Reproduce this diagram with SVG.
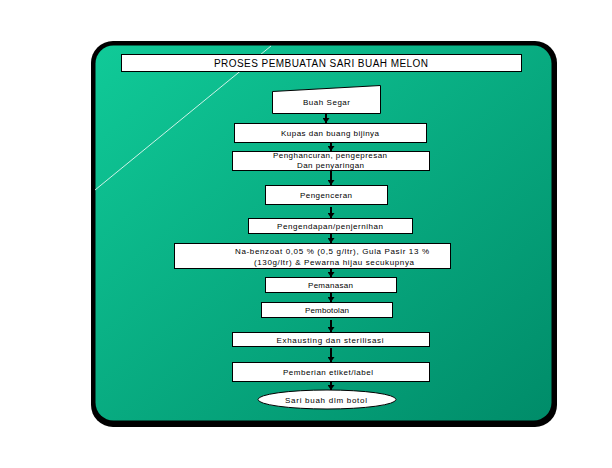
<svg xmlns="http://www.w3.org/2000/svg" width="612" height="468" viewBox="0 0 612 468">
<defs>
<linearGradient id="bg" x1="0" y1="0" x2="1" y2="1">
<stop offset="0" stop-color="#10ca98"/>
<stop offset="1" stop-color="#008c69"/>
</linearGradient>
<marker id="ah" viewBox="0 0 5 7" refX="5" refY="3.5" markerWidth="5" markerHeight="7" orient="auto" markerUnits="userSpaceOnUse">
<path d="M0,0 L5,3.5 L0,7 Z" fill="#000"/>
</marker>
<style>
.box{fill:#fff;stroke:#000;stroke-width:1}
.t{font-family:"Liberation Sans",Arial,sans-serif;font-size:8px;fill:#000;text-anchor:middle}
.title{font-family:"Liberation Sans",Arial,sans-serif;font-size:10px;fill:#000;text-anchor:middle}
.c{stroke:#000;stroke-width:2;fill:none;marker-end:url(#ah)}
</style>
</defs>
<rect width="612" height="468" fill="#fff"/>
<g id="frame">
<rect x="91" y="41" width="466" height="386" rx="22" fill="#000"/>
<rect x="95.5" y="45.5" width="456" height="375" rx="18" fill="url(#bg)"/>
<line x1="271" y1="46" x2="95" y2="190" stroke="#fff" stroke-width="0.8"/>
</g>
<g id="title">
<rect class="box" x="121.5" y="54.5" width="400" height="17"/>
<text class="title" x="321" y="67" textLength="214" lengthAdjust="spacing">PROSES PEMBUATAN SARI BUAH MELON</text>
</g>
<g id="connectors">
<line class="c" x1="326" y1="113" x2="326" y2="123"/>
<line class="c" x1="331" y1="142" x2="331" y2="151"/>
<line class="c" x1="331" y1="170" x2="331" y2="185"/>
<line class="c" x1="331" y1="207" x2="331" y2="218"/>
<line class="c" x1="331" y1="233" x2="331" y2="243"/>
<line class="c" x1="331" y1="268" x2="331" y2="277"/>
<line class="c" x1="331" y1="292" x2="331" y2="302"/>
<line class="c" x1="331" y1="320" x2="331" y2="332"/>
<line class="c" x1="331" y1="348" x2="331" y2="362"/>
<line class="c" x1="331" y1="381" x2="331" y2="390"/>
</g>
<g id="n1">
<polygon class="box" points="272.5,91.5 380.5,85.5 380.5,113.5 272.5,113.5"/>
<text class="t" x="326.5" y="105" textLength="47" lengthAdjust="spacing">Buah Segar</text>
</g>
<g id="n2">
<rect class="box" x="234.5" y="123.5" width="192" height="19"/>
<text class="t" x="330" y="136" textLength="98" lengthAdjust="spacing">Kupas dan buang bijinya</text>
</g>
<g id="n3">
<rect class="box" x="232.5" y="151.5" width="197" height="19"/>
<text class="t" x="330" y="158" textLength="114" lengthAdjust="spacing">Penghancuran, pengepresan</text>
<text class="t" x="330.5" y="168" textLength="67" lengthAdjust="spacing">Dan penyaringan</text>
</g>
<g id="n4">
<rect class="box" x="265.5" y="185.5" width="122" height="19"/>
<text class="t" x="326" y="198" textLength="52" lengthAdjust="spacing">Pengenceran</text>
</g>
<g id="n5">
<rect class="box" x="248.5" y="218.5" width="164" height="15"/>
<text class="t" x="330" y="229" textLength="106" lengthAdjust="spacing">Pengendapan/penjernihan</text>
</g>
<g id="n6">
<rect class="box" x="174.5" y="243.5" width="276" height="25"/>
<text class="t" x="332" y="254" textLength="194" lengthAdjust="spacing">Na-benzoat 0,05 % (0,5 g/ltr), Gula Pasir 13 %</text>
<text class="t" x="334" y="265" textLength="160" lengthAdjust="spacing">(130g/ltr) &amp; Pewarna hijau secukupnya</text>
</g>
<g id="n7">
<rect class="box" x="265.5" y="277.5" width="131" height="15"/>
<text class="t" x="330.5" y="288" textLength="45" lengthAdjust="spacing">Pemanasan</text>
</g>
<g id="n8">
<rect class="box" x="261.5" y="302.5" width="131" height="15"/>
<text class="t" x="327" y="313" textLength="44" lengthAdjust="spacing">Pembotolan</text>
</g>
<g id="n9">
<rect class="box" x="232.5" y="332.5" width="197" height="14"/>
<text class="t" x="330" y="343" textLength="107" lengthAdjust="spacing">Exhausting dan sterilisasi</text>
</g>
<g id="n10">
<rect class="box" x="232.5" y="362.5" width="197" height="19"/>
<text class="t" x="328" y="375" textLength="90" lengthAdjust="spacing">Pemberian etiket/label</text>
</g>
<g id="n11">
<ellipse class="box" cx="327" cy="399.5" rx="69" ry="9.5"/>
<text class="t" x="326" y="402.5" textLength="82" lengthAdjust="spacing">Sari buah dlm botol</text>
</g>
</svg>
